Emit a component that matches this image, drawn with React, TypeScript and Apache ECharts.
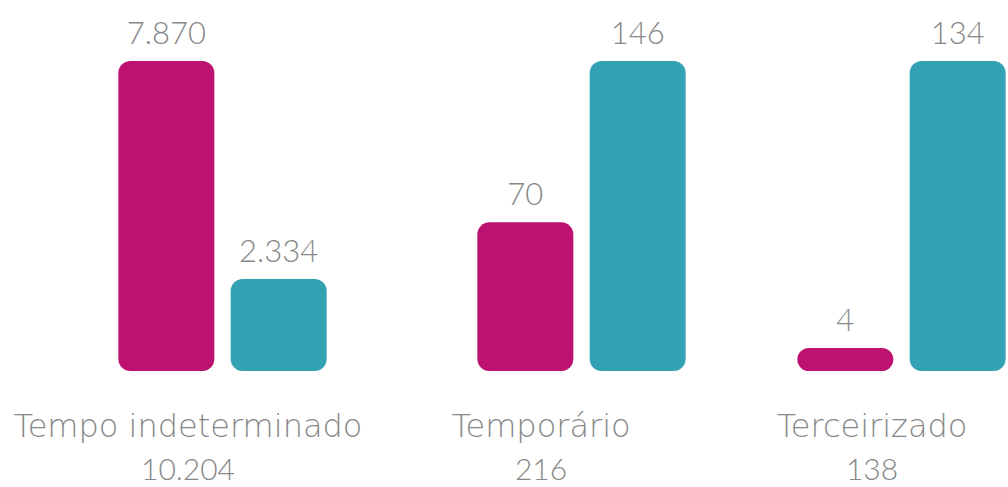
import React, { useEffect, useRef } from "react";
import * as echarts from "echarts";

const categories = ["Tempo indeterminado", "Temporário", "Terceirizado"];
const totals = ["10.204", "216", "138"];
const pinkValues = [7870, 70, 4];
const tealValues = [2334, 146, 134];

const PINK = "#BE1270";
const TEAL = "#33A3B4";
const GRAY = "#878787";

const fmt = (v: number) => v.toLocaleString("de-DE");

export default function App() {
  const ref = useRef<HTMLDivElement>(null);
  useEffect(() => {
    if (!ref.current) return;
    const chart = echarts.init(ref.current, null, { renderer: "svg" });
    const centers = [222.5, 581.5, 901.5];
    const labelCenters = [188, 541, 872];
    const gw = 210;
    const grids = centers.map((c) => ({ left: c - gw / 2, width: gw, top: 61, bottom: 116 }));
    const xAxes = categories.map((c, i) => ({ type: "category", gridIndex: i, data: [c], show: false }));
    const yAxes = categories.map((c, i) => ({
      type: "value",
      gridIndex: i,
      min: 0,
      max: Math.max(pinkValues[i], tealValues[i]),
      show: false,
    }));
    const label = {
      show: true,
      position: "top",
      distance: 14,
      color: GRAY,
      fontFamily: "Lato",
      fontWeight: 300,
      fontSize: 31,
      formatter: (p: any) => fmt(p.value),
    };
    const series: any[] = [];
    categories.forEach((c, i) => {
      series.push({
        type: "bar",
        xAxisIndex: i,
        yAxisIndex: i,
        data: [pinkValues[i]],
        barWidth: 96,
        barGap: "17%",
        barMinHeight: 23,
        itemStyle: { color: PINK, borderRadius: 12 },
        label,
      });
      series.push({
        type: "bar",
        xAxisIndex: i,
        yAxisIndex: i,
        data: [tealValues[i]],
        barWidth: 96,
        barGap: "17%",
        itemStyle: { color: TEAL, borderRadius: 12 },
        label,
      });
    });
    const graphic: any[] = [];
    categories.forEach((c, i) => {
      graphic.push({
        type: "text",
        x: labelCenters[i],
        y: 426,
        style: {
          text: c,
          fill: GRAY,
          fontFamily: "DejaVu Sans",
          fontWeight: 200,
          fontSize: 32,
          align: "center",
          verticalAlign: "middle",
        },
      });
      graphic.push({
        type: "text",
        x: labelCenters[i],
        y: 468,
        style: {
          text: totals[i],
          fill: GRAY,
          fontFamily: "Lato",
          fontWeight: 300,
          fontSize: 30,
          align: "center",
          verticalAlign: "middle",
        },
      });
    });
    chart.setOption({
      animation: false,
      grid: grids,
      xAxis: xAxes,
      yAxis: yAxes,
      series,
      graphic,
    });
    return () => chart.dispose();
  }, []);
  return (
    <div
      ref={ref}
      style={{ position: "absolute", left: 0, top: 0, width: 1008, height: 487, background: "#fff" }}
    />
  );
}
